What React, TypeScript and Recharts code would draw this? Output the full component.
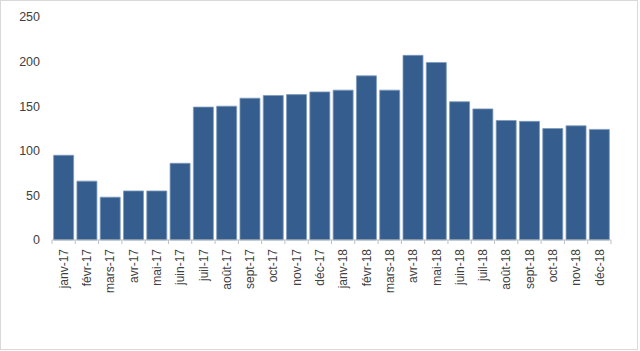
import React from "react";
import { BarChart, Bar, XAxis, YAxis } from "recharts";

const months = [
  "janv-17", "févr-17", "mars-17", "avr-17", "mai-17", "juin-17",
  "juil-17", "août-17", "sept-17", "oct-17", "nov-17", "déc-17",
  "janv-18", "févr-18", "mars-18", "avr-18", "mai-18", "juin-18",
  "juil-18", "août-18", "sept-18", "oct-18", "nov-18", "déc-18",
];
const values = [
  95, 66, 48, 55, 55, 86,
  149, 150, 159, 162, 163, 166,
  168, 184, 168, 207, 199, 155,
  147, 134, 133, 125, 128, 124,
];
const yTicks = [0, 50, 100, 150, 200, 250];

const data = months.map((m, i) => ({ month: m, value: values[i] }));

const W = 640;
const H = 351;
const MARGIN = { top: 17, right: 29, bottom: 51, left: 0 };
const Y_W = 52;
const BAND = (W - MARGIN.left - MARGIN.right - Y_W) / months.length;
const TEXT = "#404040";
const AXIS = "#bfbfbf";
const FONT = "'Liberation Sans', Arial, sans-serif";

const XTick = (props: any) => {
  const { x, y, payload, index } = props;
  const half = BAND / 2;
  return (
    <g>
      <line x1={x - half} x2={x - half} y1={y} y2={y + 4} stroke={AXIS} strokeWidth={1} />
      {index === months.length - 1 && (
        <line x1={x + half} x2={x + half} y1={y} y2={y + 4} stroke={AXIS} strokeWidth={1} />
      )}
      <text
        x={0}
        y={0}
        transform={`translate(${x},${y + 9}) rotate(-90)`}
        textAnchor="end"
        dy="0.35em"
        fill={TEXT}
        fontSize={12}
        fontFamily={FONT}
      >
        {payload.value}
      </text>
    </g>
  );
};

export default function App() {
  return (
    <div style={{ position: "absolute", left: 0, top: 0, width: W, height: H, background: "#fff" }}>
      <div
        style={{
          position: "absolute",
          left: 0,
          top: 0,
          width: 638,
          height: 350,
          boxSizing: "border-box",
          border: "1px solid #d9d9d9",
        }}
      />
      <div style={{ position: "absolute", left: 0, top: 0 }}>
        <BarChart width={W} height={H} data={data} margin={MARGIN} barCategoryGap="7%">
          <XAxis
            dataKey="month"
            interval={0}
            height={60}
            tickLine={false}
            tickSize={0}
            tickMargin={0}
            axisLine={{ stroke: AXIS, strokeWidth: 1 }}
            tick={<XTick />}
          />
          <YAxis
            width={Y_W}
            domain={[0, 250]}
            ticks={yTicks}
            axisLine={false}
            tickLine={false}
            tickMargin={6}
            tick={{ fill: TEXT, fontSize: 12.5, fontFamily: FONT }}
          />
          <Bar
            dataKey="value"
            fill="#355e8e"
            stroke="#7e9abd"
            strokeWidth={0.8}
            isAnimationActive={false}
          />
        </BarChart>
      </div>
    </div>
  );
}
